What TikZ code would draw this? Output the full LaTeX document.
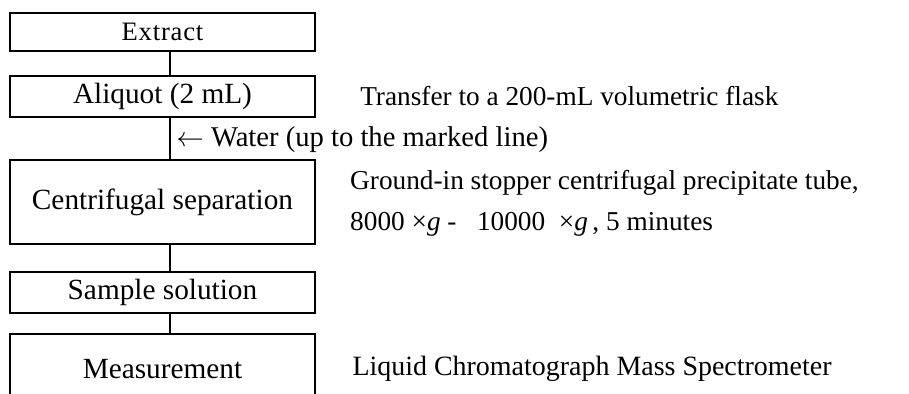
\documentclass[tikz,border=0pt]{standalone}
\usepackage{fontspec}
\setmainfont{Liberation Serif}
\usetikzlibrary{positioning}

\begin{document}
\begin{tikzpicture}[
    font=\fontsize{20.5}{30.8}\selectfont,
    stepbox/.style={
        draw=black,
        line width=1.5pt,
        minimum width=8.05cm,
        inner sep=0pt,
        align=center,
        font=\fontsize{22}{26}\selectfont
    },
    note/.style={
        anchor=west,
        inner sep=0pt,
        align=left
    },
    link/.style={
        line width=1.5pt
    }
]
\useasboundingbox (0,0) rectangle (24,-10.4);
% Flow of steps
\node[stepbox, minimum height=1.0cm, font=\fontsize{20}{24}\selectfont\addfontfeature{LetterSpace=3}] at (4.29,-0.845) (extract) {Extract};
\node[stepbox, minimum height=1.08cm] at (4.29,-2.548) (aliquot) {Aliquot (2 mL)};
\node[stepbox, minimum height=2.22cm] at (4.29,-5.333) (centri) {Centrifugal separation};
\node[stepbox, minimum height=1.08cm] at (4.29,-7.723) (sample) {Sample solution};
% Measurement box runs off the bottom edge
\node[stepbox, minimum height=1.85cm] at (4.29,-9.743) (measure) {Measurement};

% Connecting line (a little right of the box centres)
\coordinate (spine) at (4.488,0);
\draw[link] (spine |- extract.south) -- (spine |- aliquot.north);
\draw[link] (spine |- aliquot.south) -- (spine |- centri.north);
\draw[link] (spine |- centri.south) -- (spine |- sample.north);
\draw[link] (spine |- sample.south) -- (spine |- measure.north);

% Notes beside the steps
\node[note] at (9.505,-2.548) (transfer) {Transfer to a 200-mL volumetric flask};
\node[note, font=\fontsize{21.5}{30.8}\selectfont] at (4.647,-3.696) (water) {$\leftarrow$ Water (up to the marked line)};
\node[note] at (9.24,-5.38) (tube) {Ground-in stopper centrifugal precipitate tube,\\
    8000 ×\textit{g} -\ \ \ 10000 \ ×\textit{g}\,, 5 minutes};
\node[note, font=\fontsize{21}{30.8}\selectfont] at (9.3,-9.743) (lcms) {Liquid Chromatograph Mass Spectrometer};
\end{tikzpicture}
\end{document}
